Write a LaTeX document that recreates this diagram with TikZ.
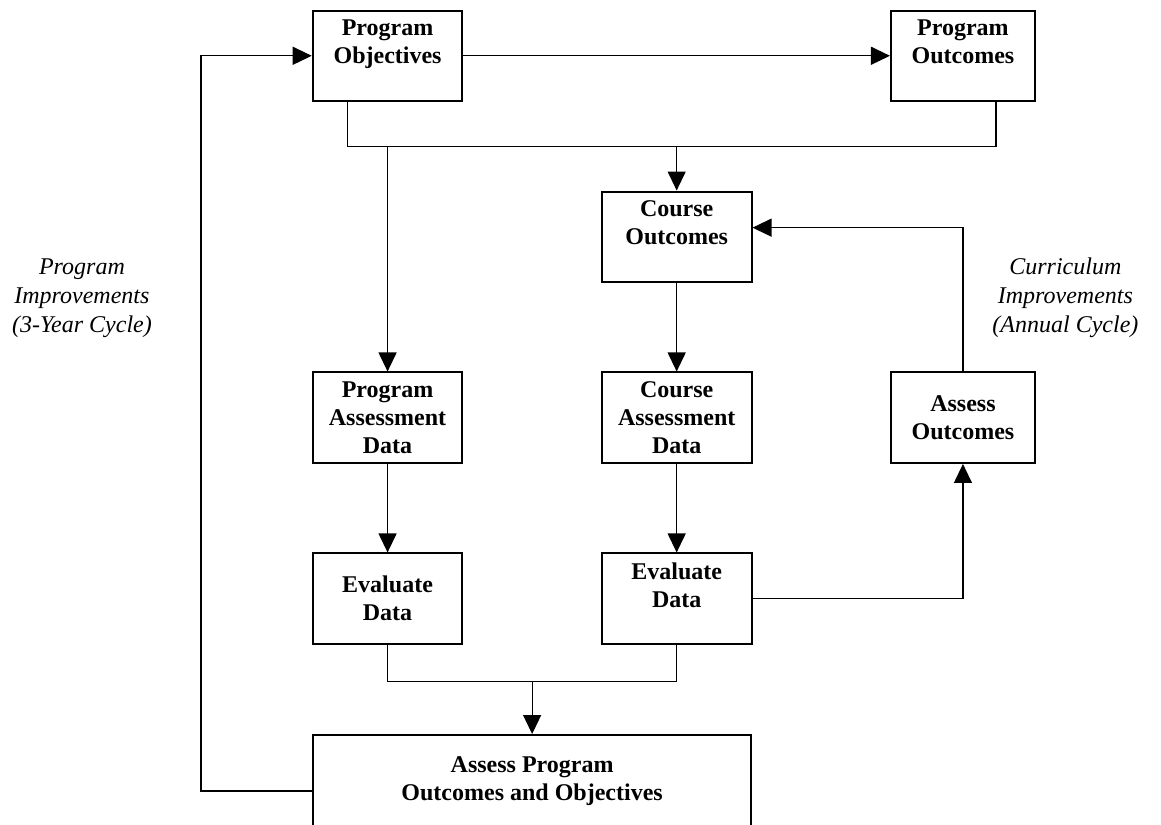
\documentclass[tikz,border=0pt]{standalone}
\usepackage{fontspec}
\setmainfont{Liberation Serif}
\usetikzlibrary{positioning, arrows.meta, calc}

\begin{document}
\begin{tikzpicture}[
    >={Triangle[length=9.5pt, width=9pt]},
    every node/.style = {font=\fontsize{12}{14}\selectfont},
    box/.style        = {rectangle, draw, line width=1pt, align=center,
                         inner sep=0pt, minimum width=2.63cm, minimum height=1.59cm,
                         font=\fontsize{12}{14}\selectfont\bfseries},
    note/.style       = {align=center, font=\fontsize{12}{14.5}\selectfont\itshape},
    line/.style       = {->, line width=0.6pt},
    wire/.style       = {line width=0.6pt}
]
\useasboundingbox (0,0) rectangle (20.40,-14.48);

% Program level (top row)
\node[box] (pobj) at ( 6.81,-0.98) {Program\\Objectives\\~};
\node[box, minimum width=2.53cm] (pout) at (16.92,-0.98) {Program\\Outcomes\\~};
\draw[line] (pobj) -- (pout);

% Assessment data row
\node[box] (pad)  at ( 6.81,-7.34) {Program\\Assessment\\Data};
\node[box] (cad)  at (11.89,-7.34) {Course\\Assessment\\Data};
\node[box, minimum width=2.53cm] (aout) at (16.92,-7.34) {Assess\\Outcomes};

% Course column
\node[box] (cout) at (11.89,-4.16) {Course\\Outcomes\\~};

% Feed from both into the two columns
\coordinate (bus) at (0,-2.58);
\coordinate (poutTap) at ($(pout.south)+(0.58,0)$);
\draw[wire] ($(pobj.south)+(-0.71,0)$) |- (bus -| poutTap) -- (poutTap);
\draw[line] (bus -| pad.north) -- (pad.north);
\draw[line] (bus -| cout.north) -- (cout.north);
\draw[line] (cout) -- (cad);

% Evaluation row
\node[box] (evl) at ( 6.81,-10.52) {Evaluate\\Data};
\node[box] (evm) at (11.89,-10.52) {Evaluate\\Data\\~};
\draw[line] (pad) -- (evl);
\draw[line] (cad) -- (evm);

% Annual cycle loop
\draw[line] (evm.east) -| (aout.south);
\draw[line] (aout.north) |- ($(cout.east)+(0,0.16)$);

% Program assessment
\node[box, minimum width=7.70cm, minimum height=1.63cm] (apo) at (9.35,-13.73)
      {Assess Program\\Outcomes and Objectives};
\coordinate (join) at (0,-11.97);
\draw[wire] (evl.south) |- (join -| evm.south) -- (evm.south);
\draw[line] (join -| apo.north) -- (apo.north);

% 3-year cycle loop
\coordinate (loopL) at (3.53,-13.90);
\draw[line] (apo.west |- loopL) -- (loopL) |- (pobj.west);

% Cycle notes
\node[note] (pimp) at ( 1.44,-5.24) {Program\\Improvements\\(3-Year Cycle)};
\node[note] (cimp) at (18.72,-5.24) {Curriculum\\Improvements\\(Annual Cycle)};

\end{tikzpicture}
\end{document}
